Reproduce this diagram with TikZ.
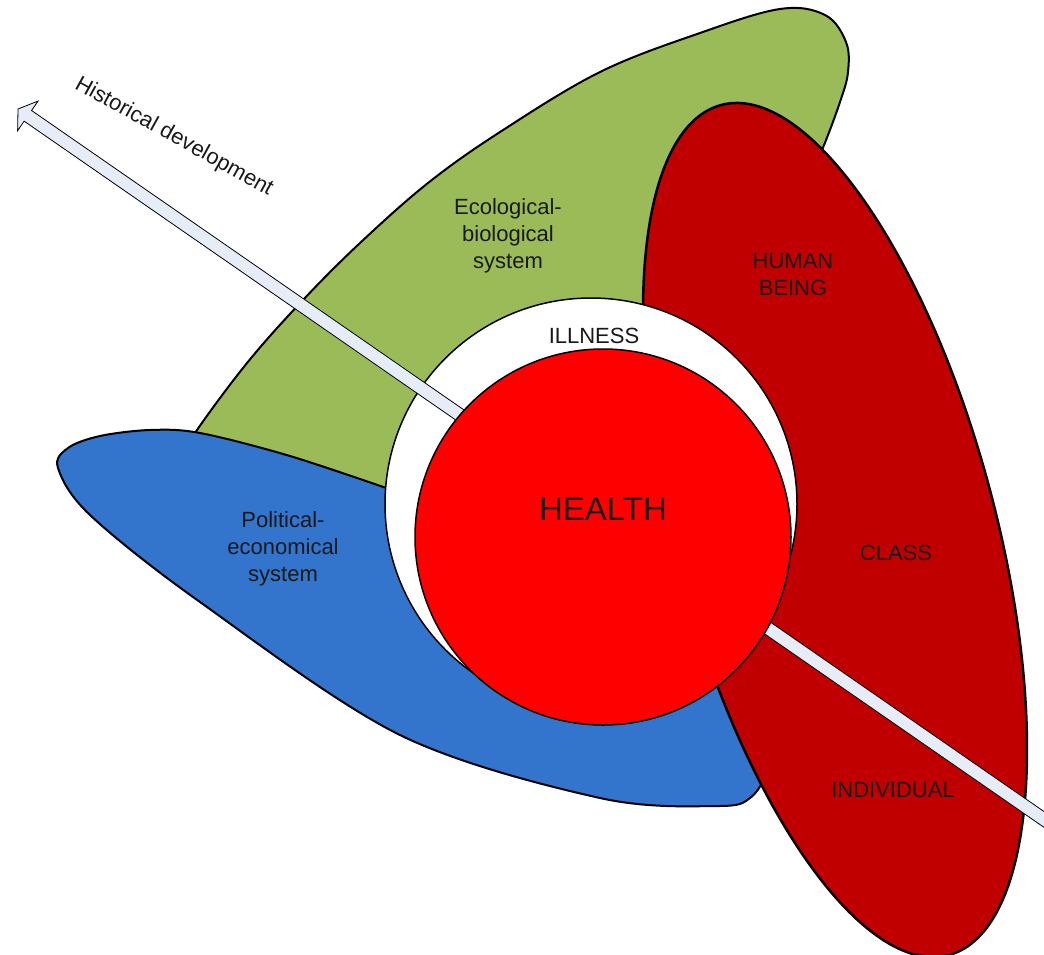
\documentclass[tikz,border=0pt]{standalone}
\usepackage{fontspec}
\setmainfont{Liberation Sans}

\definecolor{ecogreen}{HTML}{9BBB59}
\definecolor{polblue}{HTML}{3374CC}
\definecolor{humanred}{HTML}{C00000}
\definecolor{healthred}{HTML}{FF0000}
\definecolor{histfill}{HTML}{E6ECF8}

\tikzset{
  zone/.style={draw=black, line width=2pt},
  ring/.style={circle, draw=black, line width=1.5pt, inner sep=0pt},
  tag/.style={font=\fontsize{22}{27}\selectfont, align=center, inner sep=0pt, text=black!90}
}

\begin{document}
\begin{tikzpicture}[x=1pt, y=-1pt]
	\useasboundingbox (0,0) rectangle (1044,954);
	\clip (0,0) rectangle (1044,954);

	% ecological-biological system
	\filldraw[zone, fill=ecogreen] plot[smooth, tension=0.6] coordinates {(192,446) (195,433) (247,363) (303,300) (360,243) (428,183) (500,132) (600,72) (700,33) (780,9) (825,15) (846,42) (848,72) (840,102) (822,150) (805,185)}
		-- (760,300) -- (680,450) -- (420,520) -- (300,490) -- cycle;

	% political-economical system
	\filldraw[zone, fill=polblue] plot[smooth, tension=0.55] coordinates {(755,735) (765,772) (750,798) (718,806) (600,798) (400,735) (200,602) (90,515) (58,468) (68,448) (100,436) (150,430) (200,433) (290,456) (392,490)}
		-- (560,560) -- (700,650) -- cycle;

	% human being
	\filldraw[zone, fill=humanred, line width=2.5pt, rotate around={15:(835,530)}] (835,530) ellipse [x radius=160, y radius=440];

	\node[ring, fill=white, minimum size=412] (illring) at (591,504) {};

	% historical development
	\begin{scope}[shift={(18,109)}, rotate=-34.7]
		\filldraw[draw=black, line width=0.8pt, fill=histfill] (0,0) -- (12,-18) -- (12,-6.5) -- (1300,-6.5) -- (1300,6.5) -- (12,6.5) -- (12,18) -- cycle;
	\end{scope}

	\node[ring, fill=healthred, minimum size=376] (healthdisc) at (603,537) {};

	\node[tag] (eco) at (508,236) {Ecological-\\biological\\system};
	\node[tag] (pol) at (283,549) {Political-\\economical\\system};
	\node[tag] (human) at (793,275) {HUMAN\\BEING};
	\node[tag] (class) at (896,553) {CLASS};
	\node[tag] (indiv) at (893,790) {INDIVIDUAL};
	\node[tag] (illness) at (594,336) {ILLNESS};
	\node[tag, font=\fontsize{33}{40}\selectfont] (health) at (603,509) {HEALTH};
	\node[tag, rotate=-29] (hist) at (174,137) {Historical development};
\end{tikzpicture}
\end{document}
